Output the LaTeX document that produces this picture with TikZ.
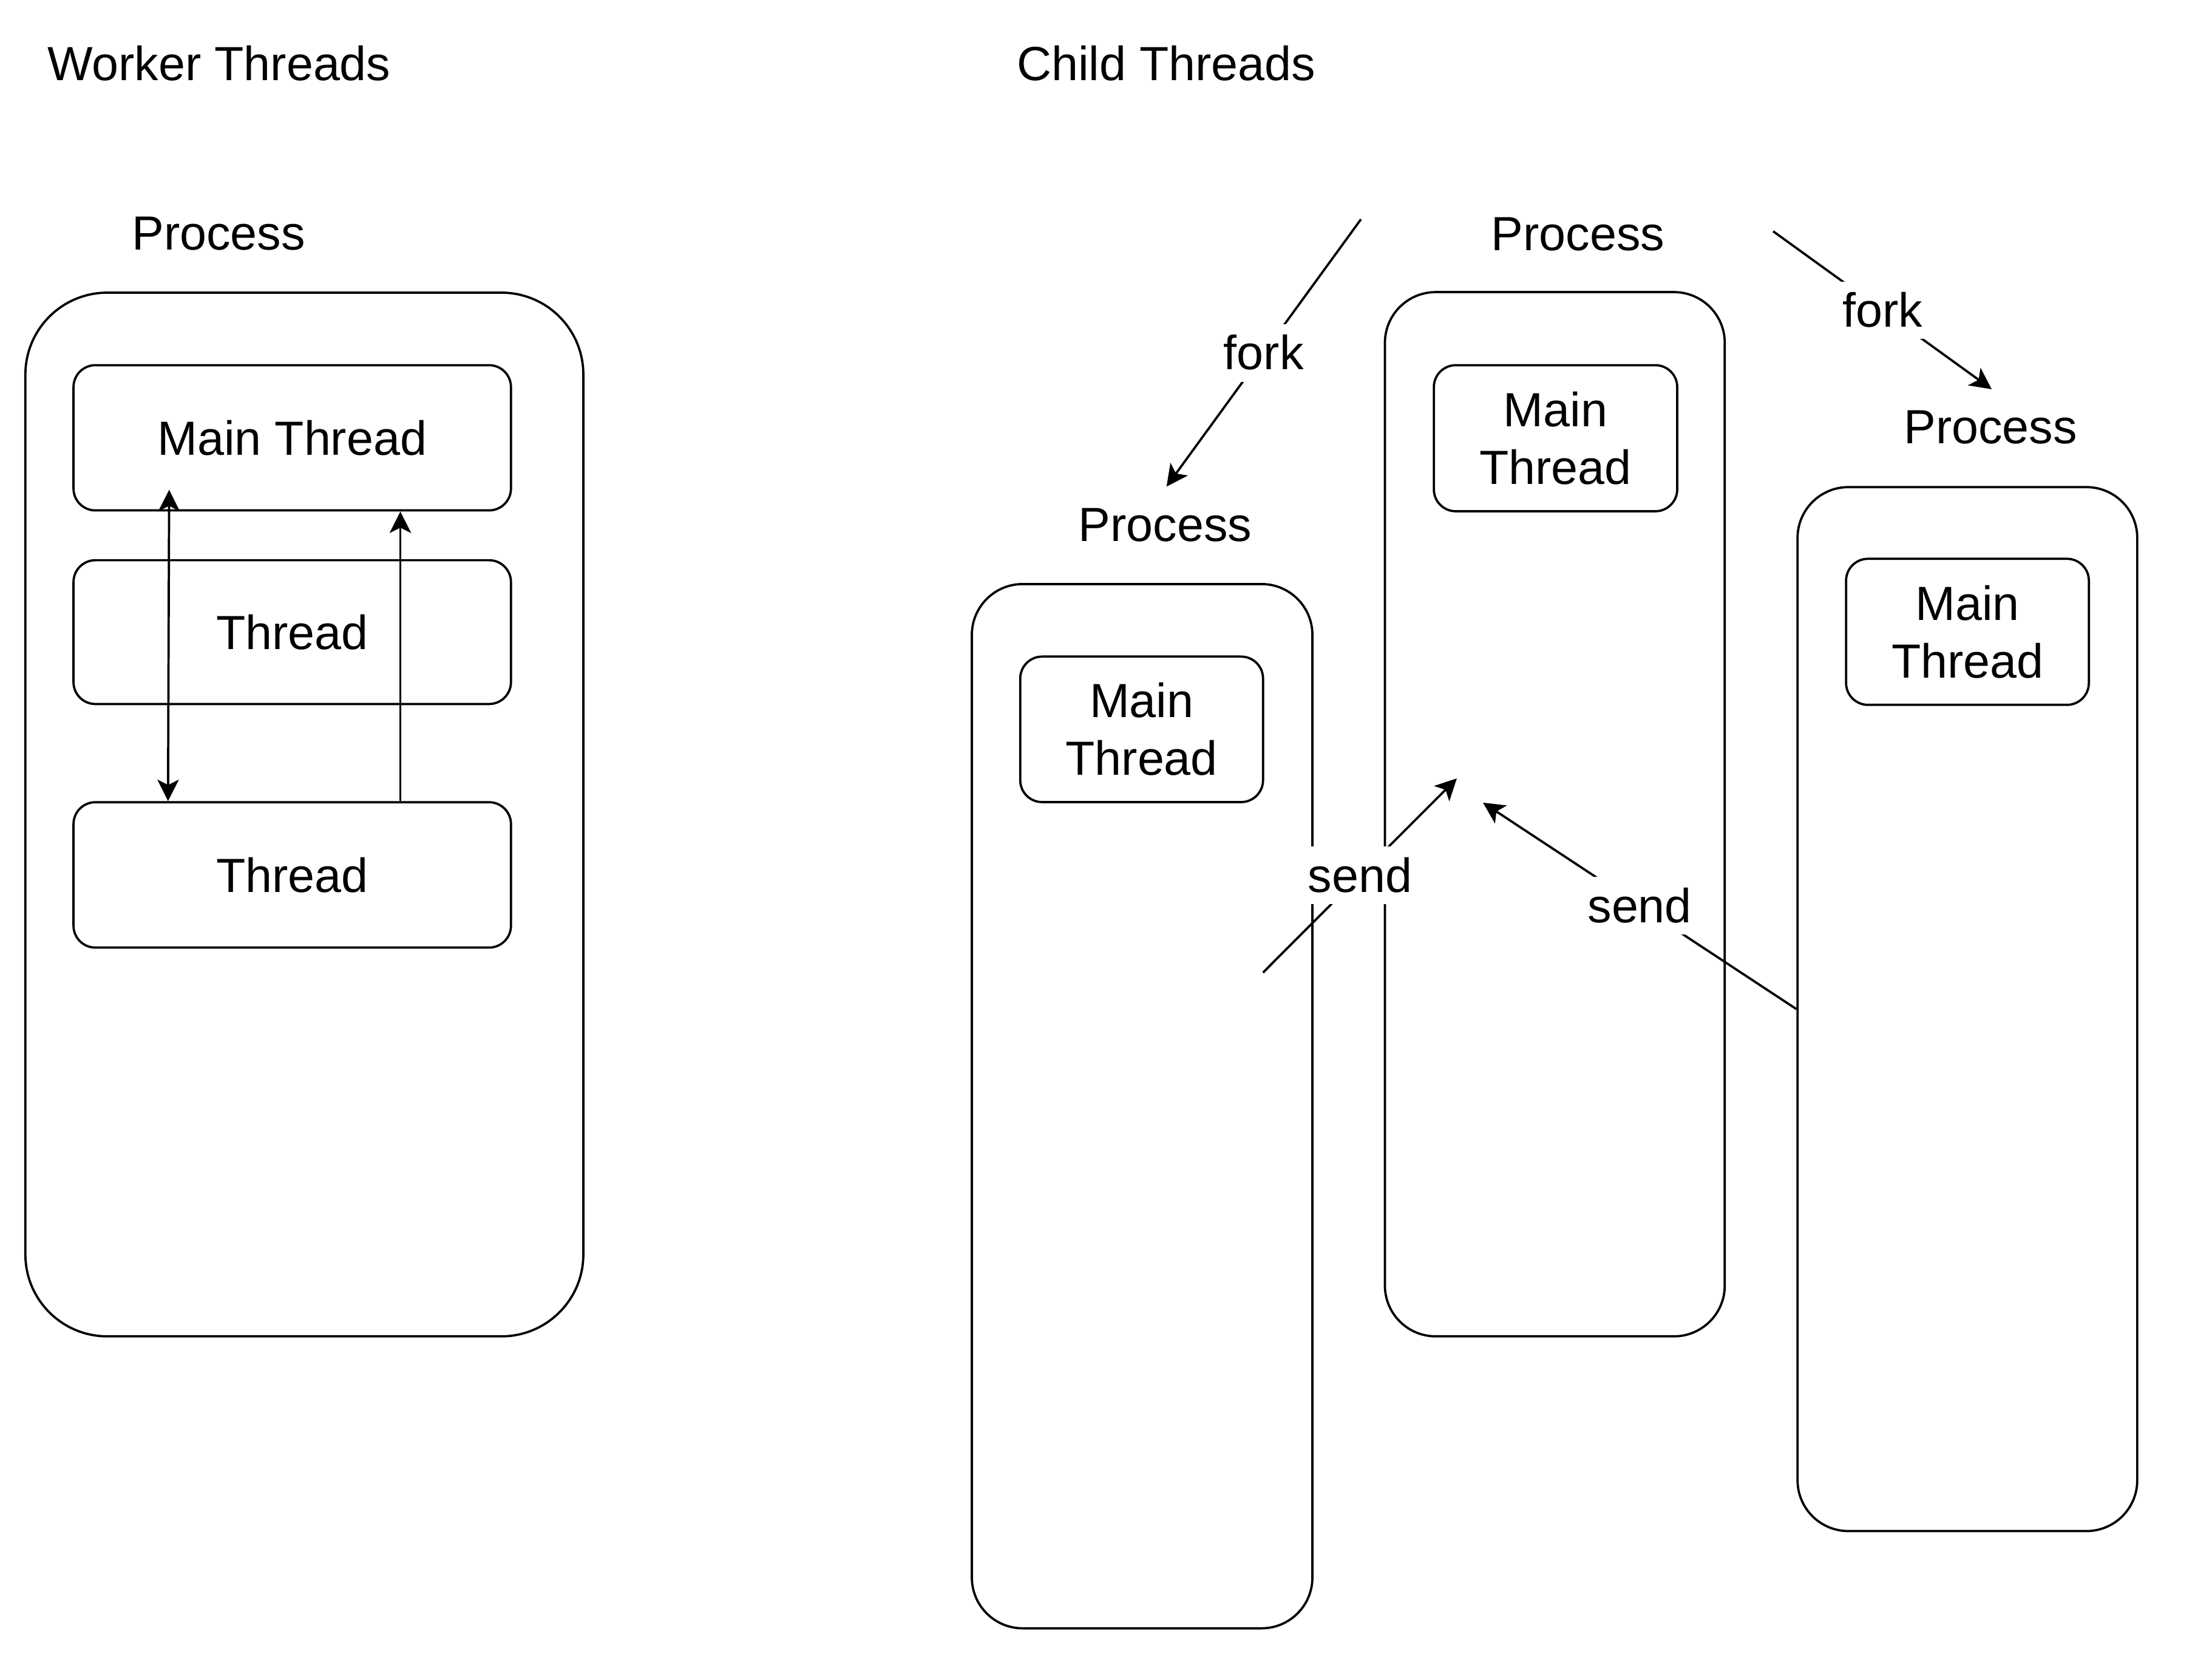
\documentclass[tikz,border=0pt]{standalone}
\usepackage{fontspec}
\setmainfont{Liberation Sans}
\usetikzlibrary{arrows.meta,fit,calc}

\begin{document}
\begin{tikzpicture}[x=0.5pt,y=-0.5pt,
  line width=0.8pt,
  >={Stealth[length=7.6pt,width=7.6pt,inset=1.9pt]},
  every node/.style={font=\fontsize{17pt}{20.4pt}\selectfont},
  caption/.style={inner sep=0pt},
  procbox/.style={draw, inner sep=0pt, rounded corners=#1},
  thrbox/.style={draw, inner sep=0pt, rounded corners=7.75pt},
  boxtext/.style={label={[align=center, inner sep=0pt]center:#1}},
  link/.style={->},
  dlink/.style={<->},
  tag/.style={fill=white, inner xsep=1pt, inner ysep=0pt, text height=16.1pt, text depth=4.3pt}
]
\useasboundingbox (0,0) rectangle (1568,1172);

% section headings
\node[caption, anchor=west] (ttlW) at (33,45) {Worker Threads};
\node[caption, anchor=west] (ttlC) at (720,45) {Child Threads};

% ---- worker threads: one process, several threads ----
\node[caption] (wpl) at (155,165.5) {Process};
\node[procbox=29pt, fit={(18,207.4) (413.5,947)}] (wp) {};
\node[thrbox, boxtext={Main Thread}, fit={(52.1,258.8) (362.2,361.7)}] (wmain) {};
\node[thrbox, boxtext={Thread}, fit={(52.1,397) (362.2,498.9)}] (wt1) {};
\node[thrbox, boxtext={Thread}, fit={(52.1,568.5) (362.2,671.5)}] (wt2) {};

\draw[dlink] ($(wt2.north west)+(67.8,0)$) -- ($(wmain.south west)+(68.6,-15.4)$);
\draw[link] ($(wt2.north west)+(232.5,0)$) -- ($(wmain.south west)+(232.5,0)$);

% ---- child threads: forked processes ----
\node[caption] (cpl0) at (1118.5,165.9) {Process};
\node[procbox=18pt, fit={(981.7,207) (1222.6,947)}] (cp0) {};
\node[thrbox, boxtext={Main\\Thread}, fit={(1016.4,258.8) (1188.9,362.3)}] (cm0) {};

\node[caption] (cpl1) at (826,372) {Process};
\node[procbox=18pt, fit={(688.9,413.9) (930.3,1153.9)}] (cp1) {};
\node[thrbox, boxtext={Main\\Thread}, fit={(723.2,465.3) (895.3,568.4)}] (cm1) {};

\node[caption] (cpl2) at (1411,303) {Process};
\node[procbox=18pt, fit={(1274.2,345.2) (1515,1085)}] (cp2) {};
\node[thrbox, boxtext={Main\\Thread}, fit={(1308.6,396) (1480.7,499.5)}] (cm2) {};

% fork connectors
\coordinate (f1s) at (964.7,155.4);
\coordinate (f1e) at (826.9,344.8);
\draw[link] (f1s) -- node[tag] (fk1) {fork} (f1e);

\coordinate (f2s) at (1256.9,163.9);
\coordinate (f2e) at (1411.8,275.8);
\draw[link] (f2s) -- node[tag] (fk2) {fork} (f2e);

% send connectors
\coordinate (s1s) at (895.3,689.2);
\coordinate (s1e) at (1032.7,551.6);
\draw[link] (s1s) -- node[tag] (sd1) {send} (s1e);

\coordinate (s2e) at (1051.2,568.8);
\draw[link] (cp2.west) -- node[tag] (sd2) {send} (s2e);
\end{tikzpicture}
\end{document}
